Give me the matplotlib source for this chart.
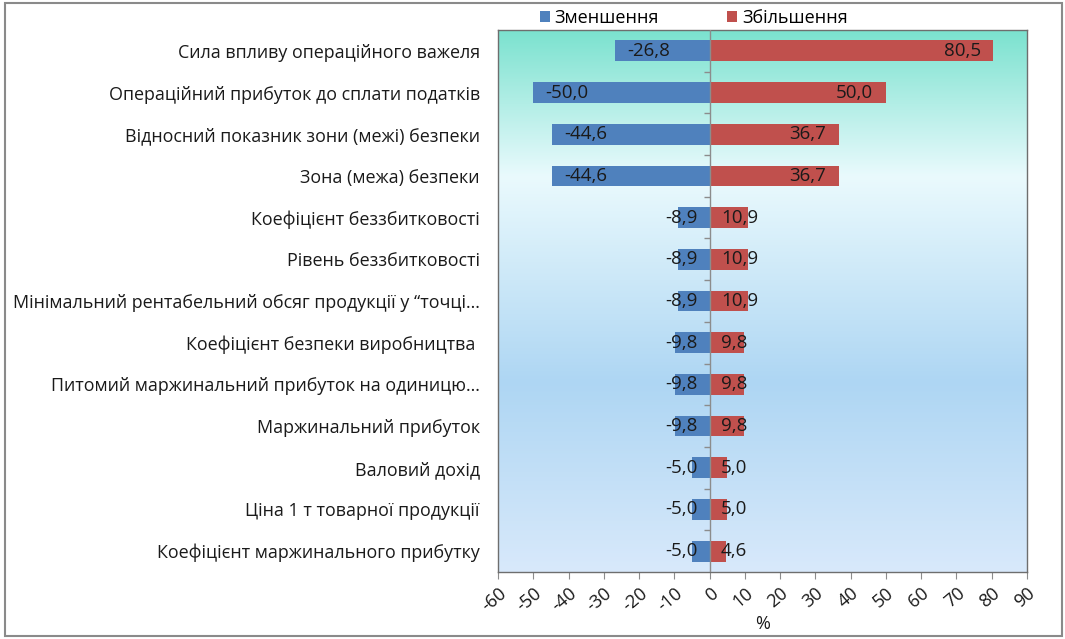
import numpy as np
import matplotlib.pyplot as plt
from matplotlib.colors import LinearSegmentedColormap
from matplotlib.patches import Rectangle

plt.rcParams['font.family'] = ['Open Sans', 'DejaVu Sans']

categories = [
    'Сила впливу операційного важеля',
    'Операційний прибуток до сплати податків',
    'Відносний показник зони (межі) безпеки',
    'Зона (межа) безпеки',
    'Коефіцієнт беззбитковості',
    'Рівень беззбитковості',
    'Мінімальний рентабельний обсяг продукції у “точці...',
    'Коефіцієнт безпеки виробництва ',
    'Питомий маржинальний прибуток на одиницю...',
    'Маржинальний прибуток',
    'Валовий дохід',
    'Ціна 1 т товарної продукції',
    'Коефіцієнт маржинального прибутку',
]
decrease = [-26.8, -50.0, -44.6, -44.6, -8.9, -8.9, -8.9, -9.8, -9.8, -9.8, -5.0, -5.0, -5.0]
increase = [80.5, 50.0, 36.7, 36.7, 10.9, 10.9, 10.9, 9.8, 9.8, 9.8, 5.0, 5.0, 4.6]
xticks = list(range(-60, 91, 10))

blue = '#4f81bd'
red = '#c0504d'
txt = '#1a1a1a'

fig = plt.figure(figsize=(10.65, 6.39), dpi=100)
ax = fig.add_axes([0.4676, 0.1049, 0.4967, 0.8481])

y = np.arange(len(categories))

# gradient background of the plot area
grad = LinearSegmentedColormap.from_list('bg', [
    (0.0, '#7be2cf'), (0.27, '#eafafd'), (0.65, '#aed6f3'), (1.0, '#d8e9fb')])
ax.imshow(np.linspace(0, 1, 256).reshape(-1, 1), cmap=grad, aspect='auto',
          extent=[-60, 90, len(categories) - 0.5, -0.5], zorder=0)

ax.barh(y, decrease, height=0.5, color=blue, label='Зменшення', zorder=2)
ax.barh(y, increase, height=0.5, color=red, label='Збільшення', zorder=2)

# zero line with small ticks between categories
ax.axvline(0, color='#8c8c8c', lw=1.0, zorder=3)
ax.plot(np.zeros(len(categories) - 1), y[:-1] + 0.5, marker=0, ms=4,
        ls='none', color='#8c8c8c', zorder=3)

def fmt(v):
    return f'{v:.1f}'.replace('.', ',')

lab_fs = 13.5
for yi, v in zip(y, decrease):
    if abs(v) > 20:
        ax.text(v + 3.4, yi, fmt(v), ha='left', va='center', fontsize=lab_fs,
                color=txt, zorder=4)
    else:
        ax.text(-3.4, yi, fmt(v), ha='right', va='center', fontsize=lab_fs,
                color=txt, zorder=4)
for yi, v in zip(y, increase):
    if v > 20:
        ax.text(v - 3.6, yi, fmt(v), ha='right', va='center', fontsize=lab_fs,
                color=txt, zorder=4)
    else:
        ax.text(3.2, yi, fmt(v), ha='left', va='center', fontsize=lab_fs,
                color=txt, zorder=4)

ax.set_xlim(-60, 90)
ax.set_ylim(len(categories) - 0.5, -0.5)
ax.set_yticks(y)
ax.set_yticklabels(categories, fontsize=12.9, color=txt)
ax.tick_params(axis='y', length=0, pad=13)
ax.set_xticks(xticks)
ax.set_xticklabels([str(t) for t in xticks], rotation=40, ha='right',
                   rotation_mode='anchor', fontsize=13, color=txt)
ax.tick_params(axis='x', length=5, color='#8c8c8c', pad=4)
ax.set_xlabel('%', fontsize=13, color=txt, labelpad=0)
for s in ax.spines.values():
    s.set_color('#6e6e6e')
    s.set_linewidth(1.0)

ax.legend(loc='lower center', bbox_to_anchor=(0.37, 0.993), ncol=2,
          frameon=False, fontsize=13, handlelength=0.55, handleheight=0.55,
          handletextpad=0.25, columnspacing=3.8, borderaxespad=0)

# outer frame around the whole chart
fig.patches.append(Rectangle((0.005, 0.004), 0.992, 0.991, transform=fig.transFigure,
                             fill=False, edgecolor='#8a8a8a', lw=1.5))

fig.savefig('out.png', dpi=100)
